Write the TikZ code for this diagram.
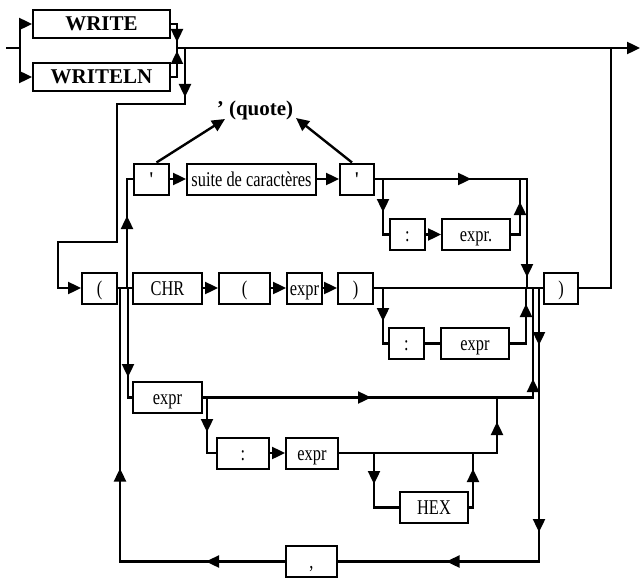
\documentclass[tikz,border=0pt]{standalone}
\usepackage{fontspec}
\setmainfont{Liberation Serif}
\newfontfamily\cond{Liberation Serif}[FakeStretch=0.78]
\usetikzlibrary{arrows.meta,decorations.markings}
\tikzset{
 sbox/.style={draw, line width=2pt, minimum width=#1, minimum height=31pt, inner sep=0pt, text height=16pt, text depth=2pt, font=\cond\fontsize{21}{22}\selectfont},
 bbox/.style={draw, line width=2pt, minimum width=137pt, minimum height=28pt, inner sep=0pt, text height=15pt, text depth=1pt, font=\bfseries\fontsize{21}{22}\selectfont},
 ln/.style={line width=2.4pt},
 tip/.style={-{Triangle[length=13pt,width=12pt]}},
 ma/.style={postaction={decorate,decoration={markings,mark=at position #1 with {\arrow{Triangle[length=13pt,width=12pt]}}}}},
}
\begin{document}
\begin{tikzpicture}[x=1pt,y=-1pt]
\useasboundingbox (0,0) rectangle (640,578);
% nodes
\node[bbox] (write) at (101.5,24) {WRITE};
\node[bbox] (writeln) at (101.5,77) {WRITELN};
\node[font=\bfseries\fontsize{21}{22}\selectfont] (quote) at (255,110) {' (quote)};
\node[sbox=35pt] (q1) at (151.5,179) {\bfseries '};
\node[sbox=129pt] (suite) at (251.5,179) {suite de caractères};
\node[sbox=34pt] (q2) at (357,179) {\bfseries '};
\node[sbox=35pt] (colon1) at (407.5,234.5) {:};
\node[sbox=68pt] (exprA) at (476,234.5) {expr.};
\node[sbox=35pt] (lp) at (99.5,288) {(};
\node[sbox=69pt] (chr) at (167.5,288) {CHR};
\node[sbox=51pt] (lp2) at (244.5,288) {(};
\node[sbox=35pt] (exprB) at (304.5,288) {expr};
\node[sbox=35pt] (rp1) at (355.5,288) {)};
\node[sbox=34pt] (rp2) at (561,288) {)};
\node[sbox=35pt] (colon2) at (406.5,343.5) {:};
\node[sbox=68pt] (exprC) at (475,343.5) {expr};
\node[sbox=69pt] (exprD) at (167.5,397.5) {expr};
\node[sbox=52pt] (colon3) at (243,453) {:};
\node[sbox=52pt] (exprE) at (312,453) {expr};
\node[sbox=68pt] (hex) at (434,507.5) {HEX};
\node[sbox=51pt] (comma) at (311.5,561.5) {,};
% coordinates
\coordinate (in) at (6,48);
\coordinate (fork) at (20,48);
\coordinate (jw) at (177,48);
\coordinate (out) at (640,48);
\coordinate (jb) at (185,48);
\coordinate (jq) at (127,288);
\coordinate (qa) at (225,119);
\coordinate (qb) at (296,118);
\coordinate (jr) at (527,288);
\coordinate (b1) at (383,179);
\coordinate (m1) at (520,179);
\coordinate (b2) at (383,288);
\coordinate (m2) at (526,288);
\coordinate (jd) at (128,288);
\coordinate (m3) at (533,288);
\coordinate (b3) at (207,397.5);
\coordinate (m4) at (497,397.5);
\coordinate (b4) at (374,453);
\coordinate (m5) at (473,453);
\coordinate (jl) at (539,288);
\coordinate (jret) at (120,288);
\coordinate (jx) at (611,48);
% top
\draw[ln] (in) -- (fork);
\draw[ln,tip] (fork) |- (write.west);
\draw[ln,tip] (fork) |- (writeln.west);
\draw[ln,ma=24pt] (write.east) -| (jw);
\draw[ln,ma=32pt] (writeln.east) -| (jw);
\draw[ln,tip] (jw) -- (out);
\draw[ln,tip,ma=49pt] (jb) -- (185,104) -- (117,104) -- (117,242) -- (58,242) |- (lp.west);
% quote row
\draw[ln] (lp.east) -- (chr.west);
\draw[ln,ma=72pt] (jq) |- (q1.west);
\draw[ln,tip] (q1.east) -- (suite.west);
\draw[ln,tip] (suite.east) -- (q2.west);
\draw[ln,tip] ([xshift=5pt]q1.north) -- (qa);
\draw[ln,tip] ([xshift=-5pt]q2.north) -- (qb);
\draw[ln,ma=96pt,ma=250pt] (q2.east) -| (jr);
\draw[ln,ma=33pt] (b1) |- (colon1.west);
\draw[ln,tip] (colon1.east) -- (exprA.west);
\draw[ln,ma=41.5pt] (exprA.east) -| (m1);
% CHR row
\draw[ln,tip] (chr.east) -- (lp2.west);
\draw[ln,tip] (lp2.east) -- (exprB.west);
\draw[ln,tip] (exprB.east) -- (rp1.west);
\draw[ln] (rp1.east) -- (rp2.west);
\draw[ln,ma=33pt] (b2) |- (colon2.west);
\draw[ln] (colon2.east) -- (exprC.west);
\draw[ln,ma=55.5pt] (exprC.east) -| (m2);
% expr row
\draw[ln,ma=89pt] (jd) |- (exprD.west);
\draw[ln,ma=168pt,ma=348.5pt] (exprD.east) -| (m3);
\draw[ln,ma=34.5pt] (b3) |- (colon3.west);
\draw[ln,tip] (colon3.east) -- (exprE.west);
\draw[ln,ma=189pt] (exprE.east) -| (m4);
\draw[ln,ma=31pt] (b4) |- (hex.west);
\draw[ln,ma=42.5pt] (hex.east) -| (m5);
% loop
\draw[ln,ma=57pt,ma=244pt,ma=366pt] (jl) |- (comma.east);
\draw[ln,ma=79pt,ma=258pt] (comma.west) -| (jret);
% exit
\draw[ln] (rp2.east) -| (jx);
\end{tikzpicture}
\end{document}
